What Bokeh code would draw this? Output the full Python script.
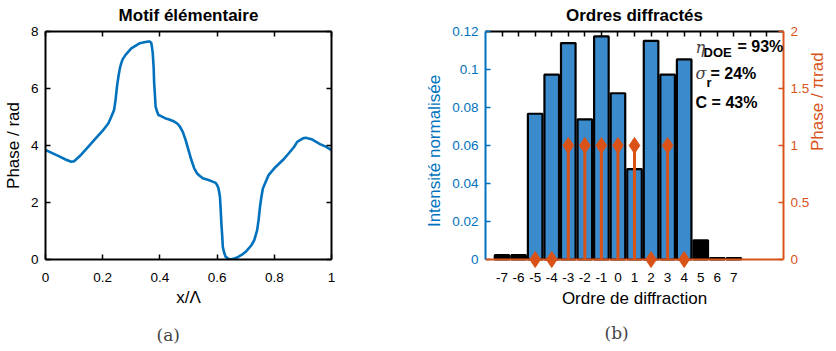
import math
from bokeh.plotting import figure
from bokeh.layouts import row
from bokeh.models import (LinearAxis, Range1d, FixedTicker, CustomJSTickFormatter,
                          CustomLabelingPolicy, Title, Label, ColumnDataSource, Span)
from bokeh.embed import file_html
from bokeh.resources import INLINE

# ---------------- Panel (a): elementary motif ----------------
x_pos = [0.0, 0.02, 0.05, 0.07, 0.09, 0.10, 0.12, 0.15, 0.17, 0.20, 0.22, 0.23,
         0.24, 0.245, 0.25, 0.255, 0.26, 0.265, 0.27, 0.28, 0.30, 0.32, 0.33,
         0.345, 0.36, 0.365, 0.37, 0.372, 0.375, 0.378, 0.38, 0.383, 0.385,
         0.39, 0.395, 0.40, 0.42, 0.43, 0.45, 0.46, 0.47, 0.48, 0.49, 0.50,
         0.51, 0.52, 0.53, 0.54, 0.55, 0.57, 0.58, 0.595, 0.60, 0.605, 0.61,
         0.612, 0.615, 0.618, 0.62, 0.625, 0.63, 0.64, 0.65, 0.67, 0.69, 0.70,
         0.72, 0.73, 0.74, 0.745, 0.75, 0.755, 0.76, 0.77, 0.78, 0.80, 0.83,
         0.85, 0.87, 0.88, 0.90, 0.91, 0.93, 0.96, 0.98, 1.0]
phase_rad = [3.84, 3.75, 3.61, 3.51, 3.43, 3.45, 3.63, 3.96, 4.19, 4.52, 4.78, 5.01,
             5.25, 5.60, 6.07, 6.42, 6.71, 6.89, 7.03, 7.18, 7.41, 7.53, 7.59,
             7.62, 7.65, 7.65, 7.59, 7.47, 7.24, 6.77, 6.18, 5.71, 5.36,
             5.19, 5.07, 5.05, 4.95, 4.92, 4.84, 4.78, 4.66, 4.48, 4.19, 3.84,
             3.49, 3.20, 3.02, 2.93, 2.85, 2.79, 2.75, 2.69, 2.61, 2.49, 2.20,
             1.85, 1.26, 0.80, 0.44, 0.23, 0.09, 0.02, 0.0, 0.07, 0.19, 0.27,
             0.50, 0.68, 1.03, 1.38, 1.85, 2.20, 2.49, 2.73, 2.96, 3.20, 3.49,
             3.72, 3.96, 4.13, 4.25, 4.27, 4.22, 4.05, 3.96, 3.84]
xa_ticks = [0, 0.2, 0.4, 0.6, 0.8, 1]
ya_ticks = [0, 2, 4, 6, 8]

# ---------------- Panel (b): diffracted orders ----------------
orders = [-7, -6, -5, -4, -3, -2, -1, 0, 1, 2, 3, 4, 5, 6, 7]
intensity = [0.0023, 0.0023, 0.0767, 0.0973, 0.1139, 0.0738, 0.1174, 0.0875,
             0.0476, 0.1151, 0.0973, 0.1053, 0.0101, 0.0008, 0.0008]
in_target = [False, False, True, True, True, True, True, True, True, True, True,
             True, False, False, False]
stem_orders = [-5, -4, -3, -2, -1, 0, 1, 2, 3, 4]
stem_phase = [0, 0, 1, 1, 1, 1, 1, 0, 1, 0]   # in units of pi
xb_ticks = [-7, -6, -5, -4, -3, -2, -1, 0, 1, 2, 3, 4, 5, 6, 7]
xb_top_ticks = [-7, -6, -5, -4, -3, -2, -1, 0, 1, 2, 3, 4, 5, 6, 7, 8, 9]
yb_ticks = [0, 0.02, 0.04, 0.06, 0.08, 0.10, 0.12]
yb2_ticks = [0, 0.5, 1, 1.5, 2]

BLUE = "#0072BD"
BAR_BLUE = "#3A8ACC"
ORANGE = "#D95319"
FONT = "Liberation Sans"

def fmt():
    return CustomJSTickFormatter(code="""
        let s = tick.toFixed(3);
        s = s.replace(/0+$/, '').replace(/\\.$/, '');
        if (s === '-0') s = '0';
        return s;
    """)

def no_labels():
    return CustomLabelingPolicy(code="""
        try { for (const i of Array.from(indices)) indices.unset(i); } catch (e) {}
        return indices;
    """)

def style_axis(ax, color, ticks, show_labels=True):
    ax.ticker = FixedTicker(ticks=ticks)
    ax.formatter = fmt()
    ax.axis_line_color = color
    ax.axis_line_width = 2
    ax.major_tick_line_color = color
    ax.major_tick_line_width = 1.5
    ax.major_tick_in = 5
    ax.major_tick_out = 0
    ax.minor_tick_line_color = None
    ax.major_label_text_color = color
    ax.major_label_text_font = FONT
    ax.major_label_text_font_size = "13.5px"
    ax.major_label_standoff = 7
    if not show_labels:
        ax.major_label_policy = no_labels()
        ax.major_label_text_font_size = "1px"
        ax.major_label_standoff = 0
    ax.axis_label_text_font = FONT
    ax.axis_label_text_font_size = "17px"
    ax.axis_label_text_font_style = "normal"
    ax.axis_label_text_color = color
    ax.axis_label_standoff = 5

def style_title(p, text):
    p.title.text = text
    p.title.align = "center"
    p.title.text_font = FONT
    p.title.text_font_size = "17px"
    p.title.text_font_style = "bold"
    p.title.text_color = "black"
    p.title.standoff = 6

# ---- figure (a)
p1 = figure(frame_width=286, frame_height=228, min_border_left=38, min_border_right=68,
            min_border_top=23, min_border_bottom=84, x_range=Range1d(0, 1),
            y_range=Range1d(0, 8), output_backend="svg", toolbar_location=None)
style_title(p1, "Motif élémentaire")
p1.grid.visible = False
p1.outline_line_color = None
p1.line(x_pos, phase_rad, line_color=BLUE, line_width=2.6, line_join="round")
p1.xaxis.axis_label = "x/Λ"
p1.yaxis.axis_label = "Phase / rad"
style_axis(p1.xaxis[0], "black", xa_ticks)
style_axis(p1.yaxis[0], "black", ya_ticks)
p1.xaxis[0].major_label_standoff = 13
p1.xaxis[0].axis_label_standoff = 3
top1 = LinearAxis()
style_axis(top1, "black", xa_ticks, show_labels=False)
p1.add_layout(top1, "above")
right1 = LinearAxis()
style_axis(right1, "black", ya_ticks, show_labels=False)
p1.add_layout(right1, "right")
p1.add_layout(Title(text="(a)", align="left", offset=111, standoff=27,
                    text_font="DejaVu Serif", text_font_size="17px",
                    text_font_style="normal"), "below")

# ---- figure (b)
# frame extended 11 px below zero so that markers sitting on 0 are not cut;
# the visible bottom line is the orange baseline at 0
PAD_PX = 11
INT_MAX = 0.12
PH_MAX = 2.0
p2 = figure(frame_width=298, frame_height=228 + PAD_PX, min_border_left=86,
            min_border_right=42, min_border_top=23, min_border_bottom=84 - PAD_PX,
            x_range=Range1d(-8, 10),
            y_range=Range1d(-INT_MAX * PAD_PX / 228, INT_MAX),
            output_backend="svg", toolbar_location=None)
style_title(p2, "Ordres diffractés")
p2.grid.visible = False
p2.outline_line_color = None
p2.extra_y_ranges = {"phase": Range1d(-PH_MAX * PAD_PX / 228, PH_MAX)}

bars = ColumnDataSource(dict(order=orders, inten=intensity,
                             color=[BAR_BLUE if t else "black" for t in in_target]))
p2.vbar(x="order", top="inten", width=0.88, source=bars, fill_color="color",
        line_color="black", line_width=2.2)
p2.add_layout(Span(location=0, dimension="width", y_range_name="phase",
                   line_color=ORANGE, line_width=2))
p2.segment(x0=stem_orders, y0=[0] * len(stem_orders), x1=stem_orders, y1=stem_phase,
           y_range_name="phase", line_color=ORANGE, line_width=3)
p2.scatter(stem_orders, stem_phase, marker="diamond", size=16, fill_color=ORANGE,
           line_color=ORANGE, y_range_name="phase")

p2.xaxis.axis_label = "Ordre de diffraction"
p2.yaxis.axis_label = "Intensité normalisée"
style_axis(p2.xaxis[0], "black", xb_ticks)
p2.xaxis[0].axis_line_color = None
p2.xaxis[0].major_tick_line_color = None
p2.xaxis[0].major_label_standoff = 2
p2.xaxis[0].axis_label_standoff = 4
style_axis(p2.yaxis[0], BLUE, yb_ticks)
p2.yaxis[0].bounds = (0, INT_MAX)
top2 = LinearAxis()
style_axis(top2, "black", xb_top_ticks, show_labels=False)
p2.add_layout(top2, "above")
right2 = LinearAxis(y_range_name="phase", axis_label="Phase / πrad")
style_axis(right2, ORANGE, yb2_ticks)
right2.bounds = (0, PH_MAX)
right2.axis_label_orientation = math.pi / 2
p2.add_layout(right2, "right")

# annotations
ann = dict(text_font=FONT, text_font_style="bold", text_color="black",
           text_baseline="middle", text_align="left")
p2.add_layout(Label(x=4.69, y=0.1116, text="η", text_font="DejaVu Serif",
                    text_font_style="italic", text_font_size="16px",
                    text_baseline="middle"))
p2.add_layout(Label(x=5.17, y=0.1089, text="DOE", text_font_size="13px", **ann))
p2.add_layout(Label(x=7.22, y=0.1121, text="= 93%", text_font_size="16px", **ann))
p2.add_layout(Label(x=4.69, y=0.0979, text="σ", text_font="DejaVu Serif",
                    text_font_style="italic", text_font_size="16px",
                    text_baseline="middle"))
p2.add_layout(Label(x=5.35, y=0.0932, text="r", text_font_size="13px", **ann))
p2.add_layout(Label(x=5.59, y=0.0979, text="= 24%", text_font_size="16px", **ann))
p2.add_layout(Label(x=4.69, y=0.0826, text="C = 43%", text_font_size="16px", **ann))

p2.add_layout(Title(text="(b)", align="left", offset=119, standoff=21,
                    text_font="DejaVu Serif", text_font_size="17px",
                    text_font_style="normal"), "below")

layout = row(p1, p2)
open("out.html", "w").write(file_html(layout, INLINE))
